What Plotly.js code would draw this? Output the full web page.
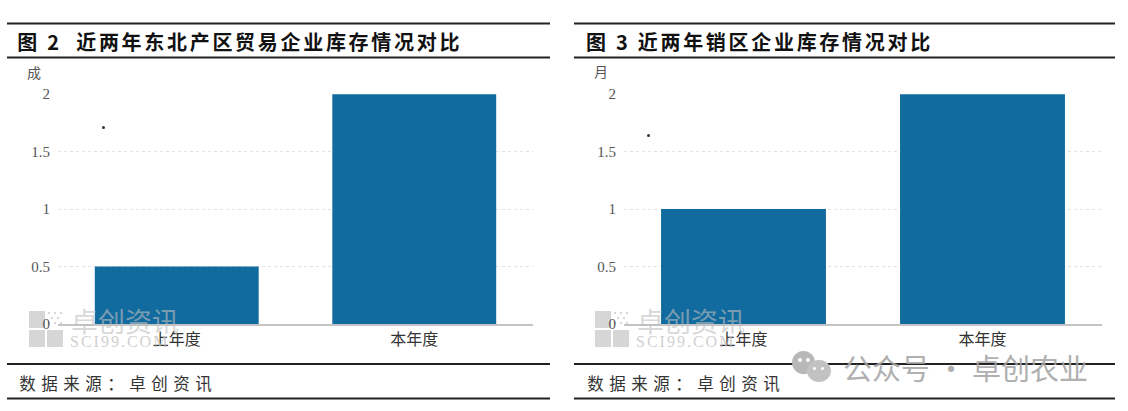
<!DOCTYPE html>
<html><head><meta charset="utf-8">
<script src="https://cdn.plot.ly/plotly-3.0.0.min.js"></script>
<style>html,body{margin:0;padding:0;background:#fff}#c{width:1128px;height:411px}
.annotation[data-index="0"] text,.annotation[data-index="1"] text{letter-spacing:2.7px}
.annotation[data-index="4"] text,.annotation[data-index="5"] text{letter-spacing:5.5px}
.annotation[data-index="8"] text,.annotation[data-index="9"] text{letter-spacing:2px}
</style></head>
<body><div id="c"></div>
<script>
const categories = ["上年度", "本年度"];
const valuesLeft = [0.5, 2];
const valuesRight = [1, 2];
const tickVals = [0, 0.5, 1, 1.5, 2];
const tickText = ["0", "0.5", "1", "1.5", "2"];
const titleLeft = "<b>图 2  近两年东北产区贸易企业库存情况对比</b>";
const titleRight = "<b>图 3 近两年销区企业库存情况对比</b>";
const unitLeft = "成";
const unitRight = "月";
const sourceText = "数据来源：卓创资讯";
const barColor = "#126b9e";
const W = 1128, H = 411;
const fx = x => x / W, fy = y => 1 - y / H;
const CJK = '"Noto Sans CJK SC", "Liberation Serif", sans-serif';
const NUM = '"Liberation Serif", "Noto Sans CJK SC", serif';

function axisY(anchor, dom) {
  return {domain: dom, anchor: anchor, range: [0, 2.002], tickvals: tickVals, ticktext: tickText,
    tickfont: {family: NUM, size: 15, color: "#555"}, showgrid: true, ticklabelstandoff: 7,
    griddash: "dot", gridcolor: "#e2e2e2", gridwidth: 1, zeroline: false, showline: false, ticks: "", ticklen: 0, fixedrange: true};
}
function axisX(anchor, dom) {
  return {domain: dom, anchor: anchor, type: "category", showline: true, linecolor: "#c4c4c4", linewidth: 2,
    tickfont: {family: CJK, size: 16, color: "#333"}, ticks: "", showgrid: false, zeroline: false, fixedrange: true};
}
const trace = (y, xa, ya) => ({type: "bar", x: categories, y: y, xaxis: xa, yaxis: ya, marker: {color: barColor}, hoverinfo: "skip", showlegend: false});

const line = (x0, x1, y, w, c) => ({type: "line", xref: "paper", yref: "paper", x0: fx(x0), x1: fx(x1), y0: fy(y), y1: fy(y), line: {color: c || "#222", width: w}});
const rect = (x0, y0, x1, y1, c) => ({type: "rect", xref: "paper", yref: "paper", x0: fx(x0), x1: fx(x1), y0: fy(y0), y1: fy(y1), fillcolor: c, line: {width: 0}, layer: "below"});
const circ = (x0, y0, x1, y1, c) => ({type: "circle", xref: "paper", yref: "paper", x0: fx(x0), x1: fx(x1), y0: fy(y0), y1: fy(y1), fillcolor: c, line: {width: 0}});
const txt = (x, y, t, size, color, family, anchor, extra) => Object.assign({xref: "paper", yref: "paper", x: fx(x), y: fy(y), text: t, showarrow: false,
  xanchor: anchor || "left", yanchor: "middle", font: {size: size, color: color, family: family || CJK}}, extra || {});

const logoGray = "#d6d6d6";
const logoDots = [[0, 0], [6, 0], [12, 0], [3, 5], [9, 5], [0, 10], [6, 10], [12, 10]];
const logo = ox => [
  rect(ox, 311, ox + 16, 328, logoGray), rect(ox + 18, 330, ox + 34, 347, logoGray), rect(ox, 330, ox + 16, 347, logoGray),
  ...logoDots.map(d => rect(ox + 19 + d[0], 312 + d[1], ox + 21 + d[0], 314 + d[1], logoGray))
];

const shapes = [
  line(7, 550, 23.5, 2), line(7, 550, 57.5, 2), line(7, 550, 364, 2), line(7, 550, 398.5, 2),
  line(574, 1115, 23.5, 2), line(574, 1115, 57.5, 2), line(574, 1115, 364, 2), line(574, 1115, 398.5, 2),
  ...logo(29), ...logo(595),
  circ(102, 126, 105, 129, "#333"), circ(647, 134, 650, 137, "#333"),
  circ(792, 351, 815, 374, "#b8b8b8"), circ(807, 360, 831, 382, "#c2c2c2"),
  circ(798, 358, 802, 362, "#fff"), circ(806, 358, 810, 362, "#fff"),
  circ(813, 367, 816, 370, "#fff"), circ(821, 367, 824, 370, "#fff")
];

const annotations = [
  txt(45, 42, titleLeft, 20, "#111"),
  txt(607, 42, titleRight, 20, "#111"),
  txt(25, 72, unitLeft, 14, "#555"),
  txt(592, 71, unitRight, 14, "#555"),
  txt(42, 383, sourceText, 16.5, "#333"),
  txt(610, 383, sourceText, 16.5, "#333"),
  txt(69, 320, "卓创资讯", 27, "rgba(190,190,190,0.6)"),
  txt(635, 320, "卓创资讯", 27, "rgba(190,190,190,0.6)"),
  txt(77, 341, "SCI99.COM", 16, "rgba(195,195,195,0.8)", NUM),
  txt(643, 341, "SCI99.COM", 16, "rgba(195,195,195,0.8)", NUM),
  txt(841, 367, "公众号 · 卓创农业", 29, "rgba(165,165,165,0.9)")
];

Plotly.newPlot("c", [trace(valuesLeft, "x", "y"), trace(valuesRight, "x2", "y2")], {
  width: W, height: H, margin: {l: 0, r: 0, t: 0, b: 0}, paper_bgcolor: "#fff", plot_bgcolor: "rgba(0,0,0,0)",
  bargap: 0.31, showlegend: false,
  xaxis: axisX("y", [fx(58), fx(533)]),
  yaxis: axisY("x", [fy(324), fy(94)]),
  xaxis2: axisX("y2", [fx(624), fx(1102)]),
  yaxis2: axisY("x2", [fy(324), fy(94)]),
  shapes: shapes, annotations: annotations
}, {displayModeBar: false, staticPlot: true});
</script></body></html>
